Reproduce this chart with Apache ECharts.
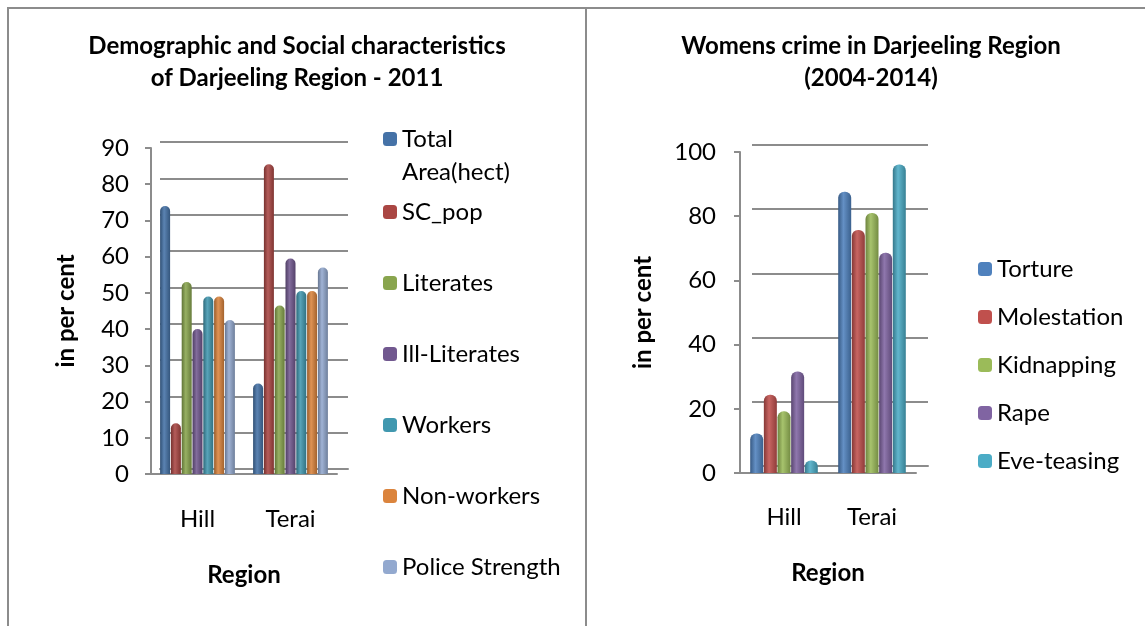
<!DOCTYPE html>
<html><head><meta charset="utf-8">
<script src="https://cdn.jsdelivr.net/npm/echarts@6/dist/echarts.min.js"></script>
<style>html,body{margin:0;padding:0;background:#fff}#c{width:1145px;height:626px}</style>
</head><body><div id="c"></div>
<script>
// ---- data ----
const categories = ['Hill', 'Terai'];
const demoNames = ['Total Area(hect)', 'SC_pop', 'Literates', 'Ill-Literates', 'Workers', 'Non-workers', 'Police Strength'];
const totalArea = [74, 25];
const scPop = [14, 85.5];
const literates = [53, 46.5];
const illLiterates = [40, 59.5];
const workers = [49, 50.5];
const nonWorkers = [49, 50.5];
const policeStrength = [42.5, 57];
const demoTicks = [0, 10, 20, 30, 40, 50, 60, 70, 80, 90];

const crimeNames = ['Torture', 'Molestation', 'Kidnapping', 'Rape', 'Eve-teasing'];
const torture = [12.3, 87.6];
const molestation = [24.4, 75.7];
const kidnapping = [19.2, 81];
const rape = [31.6, 68.6];
const eveTeasing = [3.9, 96.1];
const crimeTicks = [0, 20, 40, 60, 80, 100];

// ---- styles ----
const FONT = 'Lato';
const FS = 24;
const GRAY = '#8c8c8c';
const demoColors = ['#4572A7', '#AA4643', '#89A54E', '#71588F', '#4198AF', '#DB843D', '#93A9CF'];
const crimeColors = ['#4F81BD', '#C0504D', '#9BBB59', '#8064A2', '#4BACC6'];

function shade(hex, f) {
  const n = parseInt(hex.slice(1), 16);
  let r = n >> 16, g = (n >> 8) & 255, b = n & 255;
  const t = f < 0 ? 0 : 255, p = Math.abs(f);
  r = Math.round((t - r) * p + r); g = Math.round((t - g) * p + g); b = Math.round((t - b) * p + b);
  return 'rgb(' + r + ',' + g + ',' + b + ')';
}
function cyl(hex) {
  return new echarts.graphic.LinearGradient(0, 0, 1, 0, [
    { offset: 0, color: shade(hex, -0.3) },
    { offset: 0.4, color: shade(hex, 0.12) },
    { offset: 1, color: shade(hex, -0.25) }
  ]);
}

const demoData = [totalArea, scPop, literates, illLiterates, workers, nonWorkers, policeStrength];
const crimeData = [torture, molestation, kidnapping, rape, eveTeasing];

const txt = { fontFamily: FONT, fontSize: FS, color: '#000' };
const bold = { fontFamily: FONT, fontSize: FS, color: '#000', fontWeight: 'bold' };

function frontAxes(gi, cats, max, interval, labelMargin, catMargin, xNameGap, yNameGap) {
  return {
    x: {
      gridIndex: gi, type: 'category', data: cats,
      axisLine: { lineStyle: { color: GRAY, width: 2 } },
      axisTick: { show: false },
      axisLabel: Object.assign({ margin: catMargin }, txt),
      name: 'Region', nameLocation: 'middle', nameGap: xNameGap, nameTextStyle: bold
    },
    y: {
      gridIndex: gi, type: 'value', min: 0, max: max, interval: interval,
      axisLine: { show: true, lineStyle: { color: GRAY, width: 2 } },
      axisTick: { show: true, length: 6, lineStyle: { color: GRAY, width: 2 } },
      axisLabel: Object.assign({ margin: labelMargin }, txt),
      splitLine: { show: false },
      name: 'in per cent', nameLocation: 'middle', nameGap: yNameGap, nameTextStyle: bold
    }
  };
}
function backAxes(gi, cats, max, interval) {
  return {
    x: { gridIndex: gi, type: 'category', data: cats, axisLine: { lineStyle: { color: GRAY, width: 2 } },
         axisTick: { show: false }, axisLabel: { show: false } },
    y: { gridIndex: gi, type: 'value', min: 0, max: max, interval: interval,
         axisLine: { show: false }, axisTick: { show: false }, axisLabel: { show: false },
         splitLine: { show: true, lineStyle: { color: GRAY, width: 2 } } }
  };
}

const fL = frontAxes(0, categories, demoTicks[demoTicks.length - 1], demoTicks[1] - demoTicks[0], 22, 33, 89, 73);
const bL = backAxes(1, categories, demoTicks[demoTicks.length - 1], demoTicks[1] - demoTicks[0]);
const fR = frontAxes(2, categories, crimeTicks[crimeTicks.length - 1], crimeTicks[1] - crimeTicks[0], 24, 32, 88, 85);
const bR = backAxes(3, categories, crimeTicks[crimeTicks.length - 1], crimeTicks[1] - crimeTicks[0]);

const series = [];
demoNames.forEach((n, i) => series.push({
  name: n, type: 'bar', xAxisIndex: 0, yAxisIndex: 0, data: demoData[i],
  barWidth: 10, barGap: '8%', itemStyle: { color: cyl(demoColors[i]), borderRadius: [5, 5, 0, 0] }, z: 3
}));
crimeNames.forEach((n, i) => series.push({
  name: n, type: 'bar', xAxisIndex: 2, yAxisIndex: 2, data: crimeData[i],
  barWidth: 13, barGap: '5%', itemStyle: { color: cyl(crimeColors[i]), borderRadius: [6, 6, 0, 0] }, z: 3
}));

const legendBase = { orient: 'vertical', selectedMode: false, itemWidth: 14, itemHeight: 14, padding: 0,
  textStyle: Object.assign({ lineHeight: 24 }, txt) };

const chart = echarts.init(document.getElementById('c'));
chart.setOption({
  animation: false,
  backgroundColor: '#fff',
  title: [
    { text: 'Demographic and Social characteristics\nof Darjeeling Region - 2011', left: 297, top: 30, textAlign: 'center', padding: 0,
      textStyle: Object.assign({ lineHeight: 32 }, bold) },
    { text: 'Womens crime in Darjeeling Region\n(2004-2014)', left: 871, top: 30, textAlign: 'center', padding: 0,
      textStyle: Object.assign({ lineHeight: 32 }, bold) }
  ],
  grid: [
    { left: 151, top: 148, width: 186, height: 326 },
    { left: 160, top: 142, width: 188, height: 327 },
    { left: 740, top: 152, width: 176, height: 321 },
    { left: 752, top: 145, width: 176, height: 321 }
  ],
  xAxis: [fL.x, bL.x, fR.x, bR.x],
  yAxis: [fL.y, bL.y, fR.y, bR.y],
  legend: [
    Object.assign({}, legendBase, { left: 383, top: 127, data: [{ name: demoNames[0], itemStyle: { color: demoColors[0] } }],
      formatter: function () { return 'Total'; } }),
    Object.assign({}, legendBase, { left: 383, top: 200, itemGap: 47,
      data: demoNames.slice(1).map((n, i) => ({ name: n, itemStyle: { color: demoColors[i + 1] } })) }),
    Object.assign({}, legendBase, { left: 978, top: 257, itemGap: 24,
      data: crimeNames.map((n, i) => ({ name: n, itemStyle: { color: crimeColors[i] } })) })
  ],
  graphic: [
    { type: 'text', x: 402, y: 172, style: { text: 'Area(hect)', font: FS + 'px ' + FONT, fill: '#000', verticalAlign: 'middle' } },
    { type: 'line', shape: { x1: 8, y1: 8, x2: 8, y2: 626 }, style: { stroke: GRAY, lineWidth: 2 } },
    { type: 'line', shape: { x1: 7, y1: 8, x2: 1145, y2: 8 }, style: { stroke: GRAY, lineWidth: 2 } },
    { type: 'line', shape: { x1: 586, y1: 8, x2: 586, y2: 626 }, style: { stroke: GRAY, lineWidth: 2 } }
  ],
  series: series
});
</script></body></html>
